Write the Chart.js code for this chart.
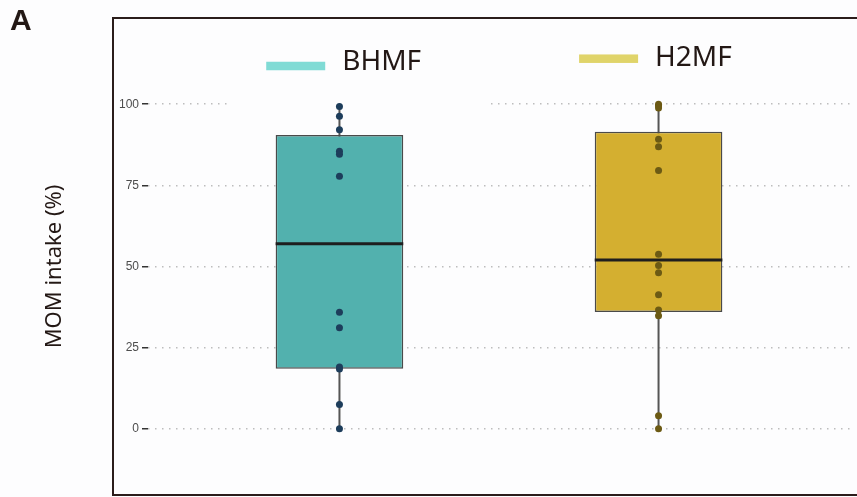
<!DOCTYPE html>
<html>
<head>
<meta charset="utf-8">
<script src="https://cdn.jsdelivr.net/npm/chart.js@4/dist/chart.umd.min.js"></script>
<style>
  html, body { margin: 0; padding: 0; background: #fdfdfe; }
  #wrap { position: relative; width: 857px; height: 497px; overflow: hidden; }
  canvas { display: block; }
</style>
</head>
<body>
<div id="wrap"><canvas id="c" width="857" height="497"></canvas></div>
<script>
// ---- data ----
const groups = ['BHMF', 'H2MF'];
const q1 = [18.5, 36.0];
const medians = [57.0, 52.0];
const q3 = [90.5, 91.5];
const whiskerLow = [0, 0];
const whiskerHigh = [99.3, 100];
const bhmfPoints = [99.3, 96.3, 92.1, 85.5, 84.6, 77.8, 35.9, 31.1, 19.0, 18.4, 7.5, 0];
const h2mfPoints = [100, 99.5, 98.8, 89.2, 86.9, 79.6, 53.8, 50.3, 48.1, 41.3, 36.6, 34.8, 4.0, 0];
const yTicks = [0, 25, 50, 75, 100];
const yTitle = 'MOM intake (%)';
const panelLabel = 'A';

// ---- styles ----
const boxFill = ['#52b1ae', '#d4af30'];
const keyFill = ['#80dbd5', '#e0d46a'];
const pointFill = ['#1d3d5b', '#6c5a14'];
const pointsByGroup = [bhmfPoints, h2mfPoints];
const BOX_HALF = 0.2;
const TEXT = '#231815';

const datasets = [];
// boxes
datasets.push({
  type: 'bar',
  label: 'box',
  data: groups.map((g, i) => ({ x: i + 1, y: [q1[i], q3[i]] })),
  backgroundColor: boxFill,
  borderColor: '#4a4a4a',
  borderWidth: 1.5,
  borderSkipped: false,
  barPercentage: 0.4,
  categoryPercentage: 1,
  order: 2
});
// whiskers
groups.forEach((g, i) => {
  datasets.push({
    type: 'line',
    label: g + ' whisker',
    data: [{ x: i + 1, y: whiskerLow[i] }, { x: i + 1, y: whiskerHigh[i] }],
    borderColor: '#555555',
    borderWidth: 2,
    pointRadius: 0,
    fill: false,
    order: 3
  });
});
// medians
groups.forEach((g, i) => {
  datasets.push({
    type: 'line',
    label: g + ' median',
    data: [{ x: i + 1 - BOX_HALF, y: medians[i] }, { x: i + 1 + BOX_HALF, y: medians[i] }],
    borderColor: '#1e1e1e',
    borderWidth: 3,
    pointRadius: 0,
    fill: false,
    order: 1
  });
});
// points
groups.forEach((g, i) => {
  datasets.push({
    type: 'scatter',
    label: g,
    data: pointsByGroup[i].map(v => ({ x: i + 1, y: v })),
    backgroundColor: pointFill[i],
    borderWidth: 0,
    pointRadius: 3.5,
    order: 0
  });
});

const decorPlugin = {
  id: 'decor',
  beforeDatasetsDraw(chart) {
    // legend key background (covers the grid like the reference)
    const ctx = chart.ctx;
    ctx.save();
    ctx.fillStyle = '#fdfdfe';
    ctx.fillRect(230, 40, 260, 66);
    ctx.restore();
  },
  afterDraw(chart) {
    const ctx = chart.ctx;
    ctx.save();
    // panel frame
    ctx.strokeStyle = '#2b1d1b';
    ctx.lineWidth = 2;
    ctx.strokeRect(113, 18, 800, 477);
    // legend
    ctx.font = '28px "Noto Sans"';
    const keyW = 59, keyH = 8.5, gap = 17, itemGap = 158;
    const widths = groups.map(g => ctx.measureText(g).width);
    const total = groups.length * (keyW + gap) + widths.reduce((a, b) => a + b, 0) + itemGap * (groups.length - 1);
    const ca = chart.chartArea;
    let x = (ca.left + ca.right) / 2 - total / 2;
    const keyCY = [66, 58.7];
    const baseY = [70, 65.5];
    groups.forEach((g, i) => {
      ctx.fillStyle = keyFill[i];
      ctx.fillRect(x, keyCY[i] - keyH / 2, keyW, keyH);
      ctx.fillStyle = TEXT;
      ctx.textBaseline = 'alphabetic';
      ctx.textAlign = 'left';
      ctx.fillText(g, x + keyW + gap, baseY[i]);
      x += keyW + gap + widths[i] + itemGap;
    });
    ctx.restore();
  }
};

new Chart(document.getElementById('c'), {
  data: { datasets },
  plugins: [decorPlugin],
  options: {
    responsive: false,
    animation: false,
    layout: { padding: { left: 10, right: 7, top: 0, bottom: 52 } },
    plugins: {
      legend: { display: false },
      tooltip: { enabled: false },
      title: {
        display: true,
        text: panelLabel,
        align: 'start',
        color: TEXT,
        font: { family: '"Liberation Sans", Arial, sans-serif', size: 30, weight: 'bold' },
        padding: { top: 4, bottom: 48 }
      }
    },
    scales: {
      x: {
        type: 'linear',
        min: 0.4,
        max: 2.6,
        offset: false,
        display: false,
        afterBuildTicks: s => { s.ticks = groups.map((g, i) => ({ value: i + 1 })); },
        grid: { display: false }
      },
      y: {
        type: 'linear',
        min: -5,
        max: 105,
        afterBuildTicks: s => { s.ticks = yTicks.map(v => ({ value: v })); },
        afterFit: s => { s.width = 138; },
        ticks: {
          color: '#4d4d4d',
          padding: 3,
          font: { family: '"Liberation Sans", Arial, sans-serif', size: 12 }
        },
        grid: {
          color: '#bdbdbd',
          lineWidth: 1.5,
          tickLength: 6,
          tickColor: '#333333',
          tickWidth: 1.5
        },
        border: { display: false, dash: [1.5, 5.5] },
        title: {
          display: true,
          text: yTitle,
          color: TEXT,
          font: { family: '"Noto Sans", sans-serif', size: 22 },
          padding: { top: 32, bottom: 0 }
        }
      }
    }
  }
});
</script>
</body>
</html>
